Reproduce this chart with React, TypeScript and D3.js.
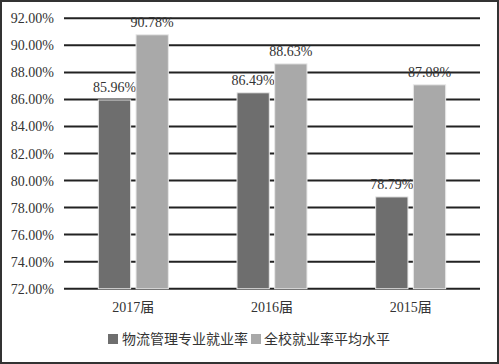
import React from "react";
import * as d3 from "d3";

const categories = ["2017届", "2016届", "2015届"];
const seriesNames = ["物流管理专业就业率", "全校就业率平均水平"];
const majorRate = [85.96, 86.49, 78.79];
const schoolRate = [90.78, 88.63, 87.08];
const yTicks = [72, 74, 76, 78, 80, 82, 84, 86, 88, 90, 92];
const colors = ["#6e6e6e", "#a9a9a9"];

const W = 499;
const H = 364;
const FONT = '"Liberation Serif", "Times New Roman", "Noto Sans CJK SC", serif';

export default function App() {
  const x0 = d3.scaleBand<string>().domain(categories).range([64, 480]).paddingInner(0).paddingOuter(0);
  const x1 = d3.scaleBand<string>().domain(seriesNames).range([0, 70]).paddingInner(0.143);
  const y = d3.scaleLinear().domain([72, 92]).range([288.7, 18.3]);
  const series = [majorRate, schoolRate];
  const pairOffset = (x0.bandwidth() - 70) / 2;

  return (
    <div style={{ position: "fixed", left: 0, top: 0 }}>
      <svg width={W} height={H} style={{ display: "block", background: "#fff" }}>
        <rect x={1} y={1} width={W - 2} height={H - 2} fill="#fff" stroke="#333" strokeWidth={2} />
        {yTicks.map((t) => (
          <g key={t}>
            <line x1={64} x2={480} y1={y(t)} y2={y(t)} stroke="#222" strokeWidth={2} />
            <text x={54} y={y(t) + 5} textAnchor="end" fontFamily={FONT} fontSize={14} fill="#333">
              {d3.format(".2f")(t) + "%"}
            </text>
          </g>
        ))}
        {categories.map((c, i) => (
          <g key={c}>
            {series.map((vals, s) => {
              const bx = (x0(c) as number) + pairOffset + (x1(seriesNames[s]) as number);
              const bw = x1.bandwidth();
              return (
                <g key={s}>
                  <rect x={bx} y={y(vals[i])} width={bw} height={y(72) - y(vals[i])} fill={colors[s]} stroke="#e8e8e8" strokeWidth={1} />
                  <text x={bx + bw / 2} y={y(vals[i]) - 8} textAnchor="middle" fontFamily={FONT} fontSize={14} fill="#333">
                    {vals[i].toFixed(2) + "%"}
                  </text>
                </g>
              );
            })}
            <text x={(x0(c) as number) + x0.bandwidth() / 2} y={312} textAnchor="middle" fontFamily={FONT} fontSize={14} fill="#333">
              {c}
            </text>
          </g>
        ))}
        <g>
          <rect x={108} y={334} width={10} height={10} fill={colors[0]} />
          <text x={122} y={344} fontFamily={FONT} fontSize={14} fill="#333">{seriesNames[0]}</text>
          <rect x={251} y={334} width={10} height={10} fill={colors[1]} />
          <text x={264} y={344} fontFamily={FONT} fontSize={14} fill="#333">{seriesNames[1]}</text>
        </g>
      </svg>
    </div>
  );
}
